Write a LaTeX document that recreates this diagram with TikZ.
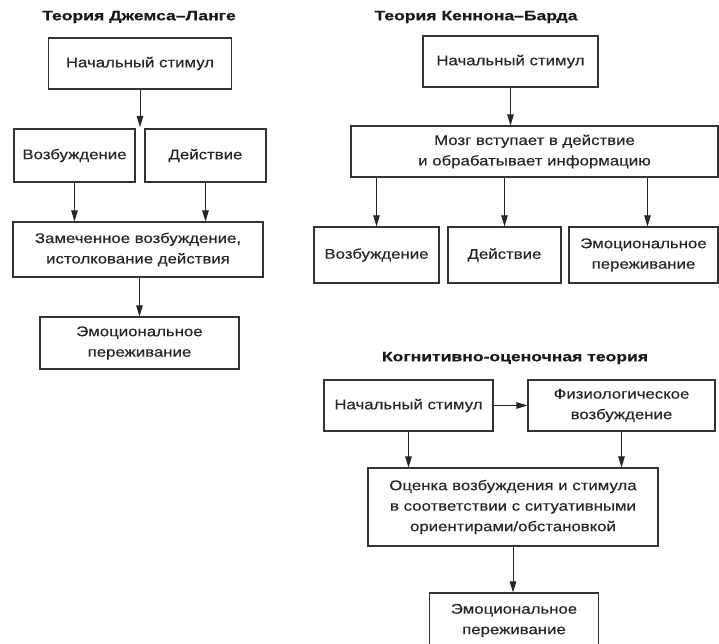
\documentclass[tikz,border=0pt]{standalone}
\usepackage{fontspec}
\setmainfont{Liberation Sans}
\newfontfamily\boxfont[FakeStretch=1.2,FakeBold=0.4]{Liberation Sans}
\newfontfamily\ttlfont[FakeStretch=1.3,FakeBold=0.6]{Liberation Sans}
\usepackage{tikz}
\usetikzlibrary{arrows.meta, positioning}

\tikzset{
  blk/.style={draw=black!80, line width=1.1pt, align=center, inner sep=2pt,
    font=\boxfont\fontsize{14}{20.5}\selectfont, text=black!85},
  ttl/.style={font=\ttlfont\fontsize{13.5}{16}\selectfont\bfseries, text=black!90},
  arr/.style={draw=black!85, line width=1pt, -{Triangle[length=11pt,width=6.5pt]}}
}

\begin{document}
\begin{tikzpicture}[x=1pt,y=-1pt]
			\useasboundingbox (0,0) rectangle (719,644);
			% Теория Джемса--Ланге
			\node[ttl] (jt) at (139,17) {Теория Джемса–Ланге};
			\node[blk, minimum width=183, minimum height=51] (js) at (140,63.5) {Начальный стимул};
			\node[blk, minimum width=121, minimum height=53] (jv) at (74.5,155.5) {Возбуждение};
			\node[blk, minimum width=121, minimum height=53] (jd) at (205.5,155.5) {Действие};
			\node[blk, minimum width=250, minimum height=55] (jz) at (138,249.5) {Замеченное возбуждение,\\истолкование действия};
			\node[blk, minimum width=199, minimum height=52] (je) at (139.5,343) {Эмоциональное\\переживание};
			\coordinate (jfork) at (140,127);
			\draw[arr] (js) -- (jfork);
			\draw[arr] (jv) -- (jv |- jz.north);
			\draw[arr] (jd) -- (jd |- jz.north);
			\draw[arr] (je |- jz.south) -- (je);
			% Теория Кеннона--Барда
			\node[ttl] (kt) at (476,17) {Теория Кеннона–Барда};
			\node[blk, minimum width=175, minimum height=51] (ks) at (510.5,61.5) {Начальный стимул};
			\node[blk, minimum width=367, minimum height=51] (kb) at (534.5,151.5) {Мозг вступает в действие\\и обрабатывает информацию};
			\node[blk, minimum width=125, minimum height=56] (kv) at (376.5,255) {Возбуждение};
			\node[blk, minimum width=113, minimum height=56] (kd) at (504.5,255) {Действие};
			\node[blk, minimum width=149, minimum height=56] (ke) at (643.5,255) {Эмоциональное\\переживание};
			\draw[arr] (ks) -- (ks |- kb.north);
			\draw[arr] (kv |- kb.south) -- (kv);
			\draw[arr] (kd |- kb.south) -- (kd);
			\draw[arr] ([xshift=4]ke.north |- kb.south) -- ([xshift=4]ke.north);
			% Когнитивно-оценочная теория
			\node[ttl] (ct) at (515,358) {Когнитивно-оценочная теория};
			\node[blk, minimum width=169, minimum height=51] (cs) at (408.5,405.5) {Начальный стимул};
			\node[blk, minimum width=187, minimum height=51] (cf) at (621.5,405.5) {Физиологическое\\возбуждение};
			\node[blk, minimum width=290, minimum height=78] (co) at (513,507) {Оценка возбуждения и стимула\\в соответствии с ситуативными\\ориентирами/обстановкой};
			\node[blk, minimum width=169, minimum height=55] (ce) at (514,620.5) {Эмоциональное\\переживание};
			\draw[arr] (cs) -- (cf);
			\draw[arr] (cs) -- (cs |- co.north);
			\draw[arr] (cf) -- (cf |- co.north);
			\draw[arr] (co) -- (co |- ce.north);
		\end{tikzpicture}
\end{document}
